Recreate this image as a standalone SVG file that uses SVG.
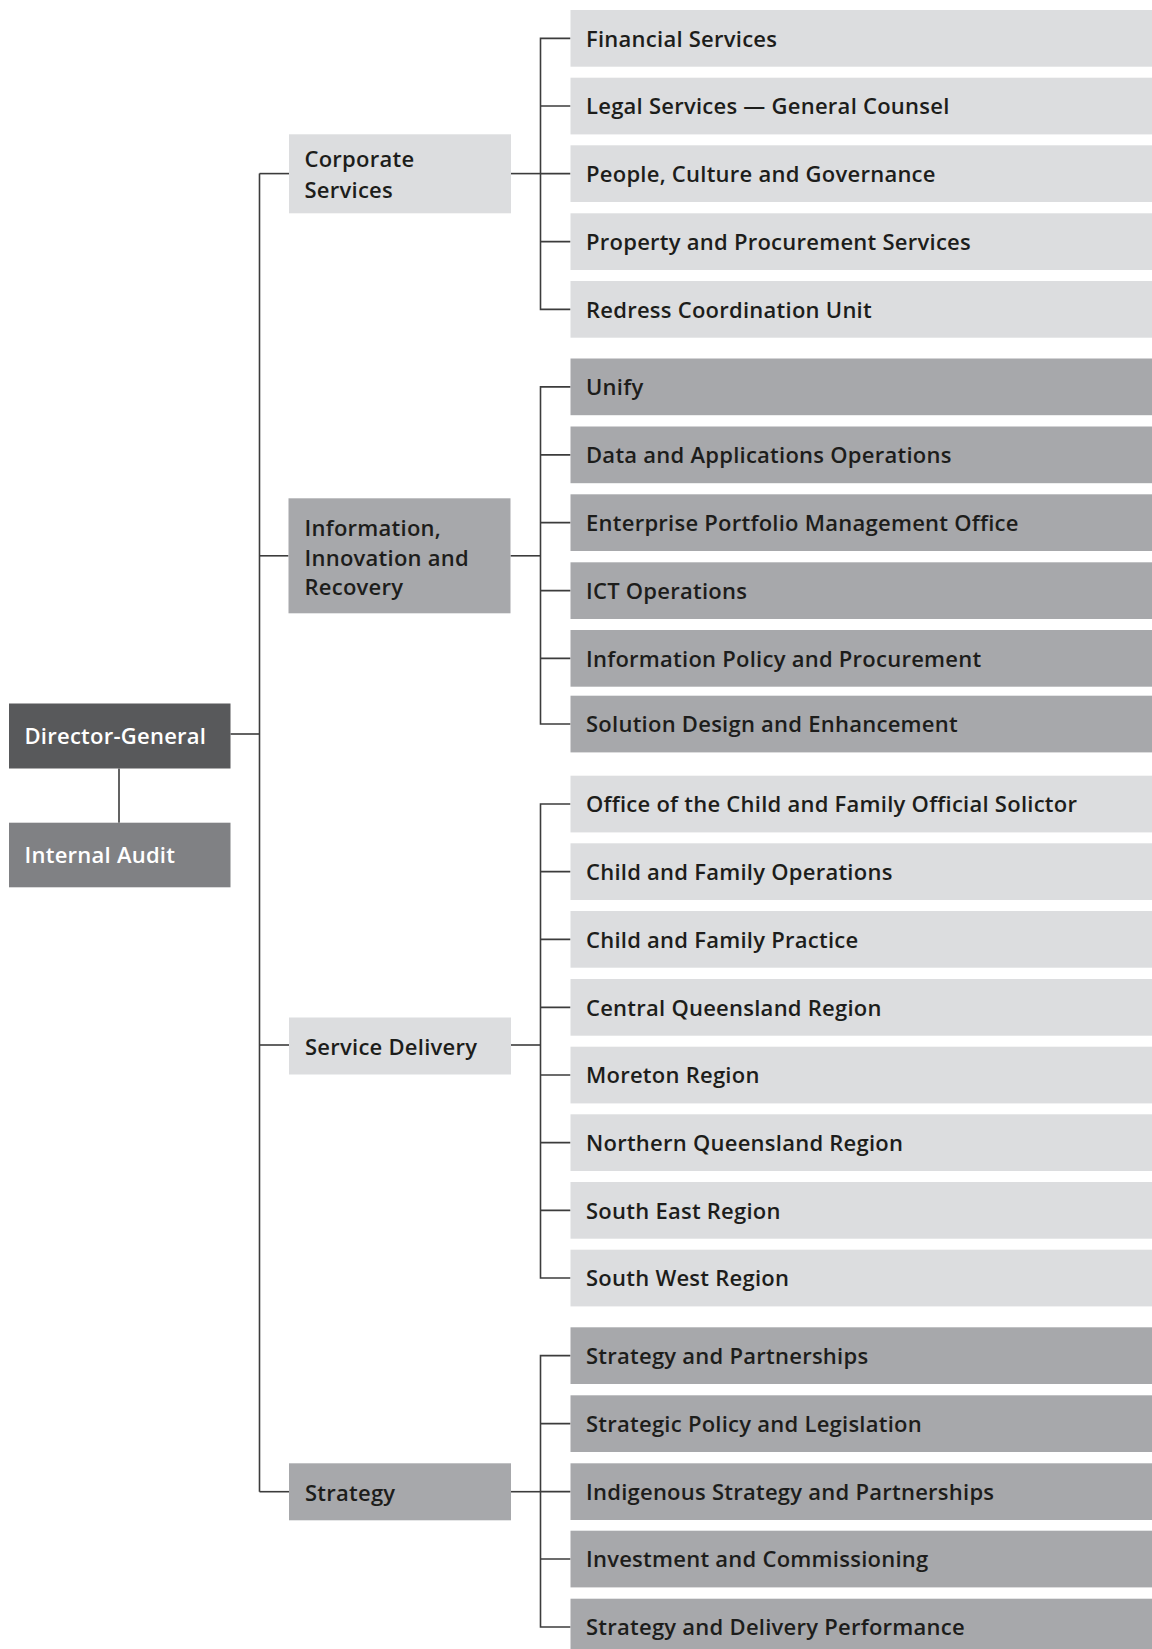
<svg xmlns="http://www.w3.org/2000/svg" width="1152" height="1649" viewBox="0 0 1152 1649">
  <style>
    text { font-family: "Open Sans", "Noto Sans", "Liberation Sans", sans-serif; font-size: 22px; font-weight: 600; letter-spacing: 0.25px; fill: #1d1d1b; }
    .lt { fill: #dcdddf; }
    .dk { fill: #a7a8ab; }
    .dg { fill: #58595b; }
    .ia { fill: #808184; }
    .wt { fill: #ffffff; }
    .conn line, .conn path { stroke: #3c3c3c; stroke-width: 1.6; fill: none; }
  </style>

  <!-- connectors -->
  <g id="connectors" class="conn">
    <!-- Director-General to Internal Audit -->
    <line x1="119" y1="768.5" x2="119" y2="822.7"/>
    <!-- Director-General to main trunk -->
    <line x1="230.5" y1="734" x2="259.5" y2="734"/>
    <!-- main trunk and branches to divisions -->
    <line x1="259.5" y1="173.6" x2="259.5" y2="1491.7"/>
    <line x1="259.5" y1="173.6" x2="289" y2="173.6"/>
    <line x1="259.5" y1="555.8" x2="288.5" y2="555.8"/>
    <line x1="259.5" y1="1045" x2="289" y2="1045"/>
    <line x1="259.5" y1="1491.7" x2="289" y2="1491.7"/>
    <!-- divisions to their sub-trunks -->
    <line x1="511" y1="173.6" x2="540.5" y2="173.6"/>
    <line x1="510.5" y1="555.8" x2="540.5" y2="555.8"/>
    <line x1="511" y1="1045" x2="540.5" y2="1045"/>
    <line x1="511" y1="1491.7" x2="540.5" y2="1491.7"/>
    <!-- Corporate Services units -->
    <path d="M570.5 38.35H540.5V309.35H570.5M540.5 106.05H570.5M540.5 173.65H570.5M540.5 241.65H570.5"/>
    <!-- Information, Innovation and Recovery units -->
    <path d="M570.5 386.85H540.5V724.05H570.5M540.5 454.85H570.5M540.5 522.65H570.5M540.5 590.65H570.5M540.5 658.35H570.5"/>
    <!-- Service Delivery units -->
    <path d="M570.5 804.05H540.5V1278.05H570.5M540.5 871.65H570.5M540.5 939.35H570.5M540.5 1007.35H570.5M540.5 1075.05H570.5M540.5 1142.65H570.5M540.5 1210.35H570.5"/>
    <!-- Strategy units -->
    <path d="M570.5 1355.65H540.5V1627.05H570.5M540.5 1423.65H570.5M540.5 1491.65H570.5M540.5 1559.05H570.5"/>
  </g>

  <!-- executive -->
  <g id="director-general">
    <rect class="dg" x="9" y="703.5" width="221.5" height="65"/>
    <text class="wt" x="24.5" y="744">Director-General</text>
  </g>
  <g id="internal-audit">
    <rect class="ia" x="9" y="822.7" width="221.5" height="64.6"/>
    <text class="wt" x="24.5" y="863">Internal Audit</text>
  </g>

  <!-- divisions -->
  <g id="corporate-services">
    <rect class="lt" x="289" y="134.3" width="222" height="79"/>
    <text x="304.5" y="167">Corporate</text>
    <text x="304.5" y="197.5">Services</text>
  </g>
  <g id="information-innovation-recovery">
    <rect class="dk" x="288.5" y="498.3" width="222" height="115"/>
    <text x="304.5" y="536">Information,</text>
    <text x="304.5" y="565.5">Innovation and</text>
    <text x="304.5" y="595">Recovery</text>
  </g>
  <g id="service-delivery">
    <rect class="lt" x="289" y="1017.5" width="222" height="57"/>
    <text x="305" y="1054.5">Service Delivery</text>
  </g>
  <g id="strategy">
    <rect class="dk" x="289" y="1463.3" width="222" height="57"/>
    <text x="305" y="1500.5">Strategy</text>
  </g>

  <!-- Corporate Services units -->
  <g id="financial-services"><rect class="lt" x="570.5" y="10" width="581.5" height="56.7"/><text x="586" y="46.5">Financial Services</text></g>
  <g id="legal-services"><rect class="lt" x="570.5" y="77.7" width="581.5" height="56.7"/><text x="586" y="114.2">Legal Services — General Counsel</text></g>
  <g id="people-culture-governance"><rect class="lt" x="570.5" y="145.3" width="581.5" height="56.7"/><text x="586" y="181.8">People, Culture and Governance</text></g>
  <g id="property-procurement"><rect class="lt" x="570.5" y="213.3" width="581.5" height="56.7"/><text x="586" y="249.8">Property and Procurement Services</text></g>
  <g id="redress-coordination"><rect class="lt" x="570.5" y="281" width="581.5" height="56.7"/><text x="586" y="317.5">Redress Coordination Unit</text></g>

  <!-- Information, Innovation and Recovery units -->
  <g id="unify"><rect class="dk" x="570.5" y="358.5" width="581.5" height="56.7"/><text x="586" y="395">Unify</text></g>
  <g id="data-applications"><rect class="dk" x="570.5" y="426.5" width="581.5" height="56.7"/><text x="586" y="463">Data and Applications Operations</text></g>
  <g id="enterprise-portfolio"><rect class="dk" x="570.5" y="494.3" width="581.5" height="56.7"/><text x="586" y="530.8">Enterprise Portfolio Management Office</text></g>
  <g id="ict-operations"><rect class="dk" x="570.5" y="562.3" width="581.5" height="56.7"/><text x="586" y="598.8">ICT Operations</text></g>
  <g id="information-policy"><rect class="dk" x="570.5" y="630" width="581.5" height="56.7"/><text x="586" y="666.5">Information Policy and Procurement</text></g>
  <g id="solution-design"><rect class="dk" x="570.5" y="695.7" width="581.5" height="56.7"/><text x="586" y="732.2">Solution Design and Enhancement</text></g>

  <!-- Service Delivery units -->
  <g id="official-solicitor"><rect class="lt" x="570.5" y="775.7" width="581.5" height="56.7"/><text x="586" y="812.2">Office of the Child and Family Official Solictor</text></g>
  <g id="child-family-operations"><rect class="lt" x="570.5" y="843.3" width="581.5" height="56.7"/><text x="586" y="879.8">Child and Family Operations</text></g>
  <g id="child-family-practice"><rect class="lt" x="570.5" y="911" width="581.5" height="56.7"/><text x="586" y="947.5">Child and Family Practice</text></g>
  <g id="central-queensland"><rect class="lt" x="570.5" y="979" width="581.5" height="56.7"/><text x="586" y="1015.5">Central Queensland Region</text></g>
  <g id="moreton"><rect class="lt" x="570.5" y="1046.7" width="581.5" height="56.7"/><text x="586" y="1083.2">Moreton Region</text></g>
  <g id="northern-queensland"><rect class="lt" x="570.5" y="1114.3" width="581.5" height="56.7"/><text x="586" y="1150.8">Northern Queensland Region</text></g>
  <g id="south-east"><rect class="lt" x="570.5" y="1182" width="581.5" height="56.7"/><text x="586" y="1218.5">South East Region</text></g>
  <g id="south-west"><rect class="lt" x="570.5" y="1249.7" width="581.5" height="56.7"/><text x="586" y="1286.2">South West Region</text></g>

  <!-- Strategy units -->
  <g id="strategy-partnerships"><rect class="dk" x="570.5" y="1327.3" width="581.5" height="56.7"/><text x="586" y="1363.8">Strategy and Partnerships</text></g>
  <g id="strategic-policy"><rect class="dk" x="570.5" y="1395.3" width="581.5" height="56.7"/><text x="586" y="1431.8">Strategic Policy and Legislation</text></g>
  <g id="indigenous-strategy"><rect class="dk" x="570.5" y="1463.3" width="581.5" height="56.7"/><text x="586" y="1499.8">Indigenous Strategy and Partnerships</text></g>
  <g id="investment-commissioning"><rect class="dk" x="570.5" y="1530.7" width="581.5" height="56.7"/><text x="586" y="1567.2">Investment and Commissioning</text></g>
  <g id="strategy-delivery"><rect class="dk" x="570.5" y="1598.7" width="581.5" height="56.7"/><text x="586" y="1635.2">Strategy and Delivery Performance</text></g>
</svg>
